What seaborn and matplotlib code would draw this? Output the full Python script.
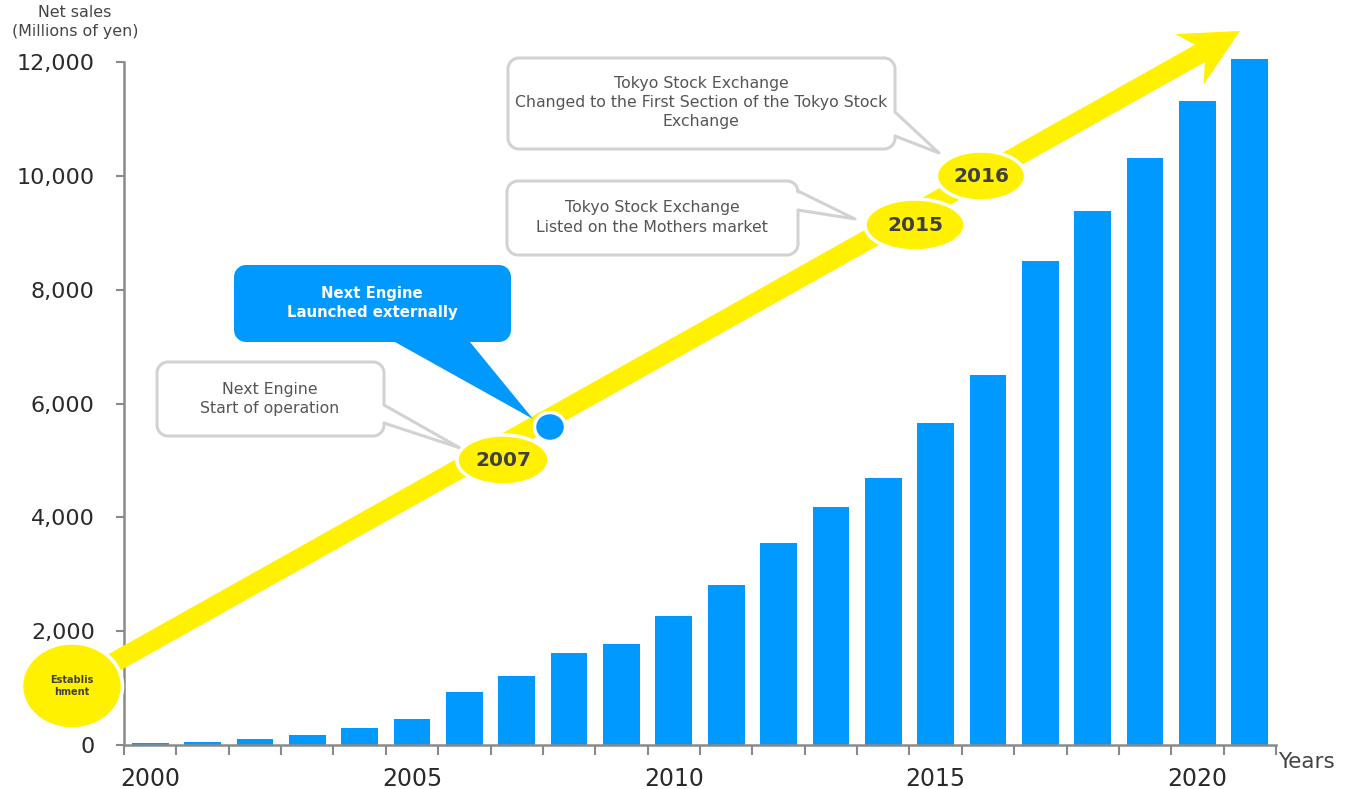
import numpy as np
import pandas as pd
import matplotlib
matplotlib.use("Agg")
import matplotlib.pyplot as plt
import seaborn as sns
from matplotlib.patches import Polygon, Ellipse

# ---------------- data ----------------
years = ["2000", "2001", "2002", "2003", "2004", "2005", "2006", "2007", "2008", "2009", "2010",
         "2011", "2012", "2013", "2014", "2015", "2016", "2017", "2018", "2019", "2020", "2021"]
net_sales = [35, 55, 100, 170, 300, 455, 928, 1215, 1610, 1775, 2270,
             2805, 3555, 4175, 4685, 5660, 6500, 8510, 9385, 10310, 11320, 12050]
shown_year_labels = ["2000", "2005", "2010", "2015", "2020"]
y_ticks = [0, 2000, 4000, 6000, 8000, 10000, 12000]
milestone_years = ["2007", "2015", "2016"]

W, H = 1349, 789
BAR = "#0099FF"
YEL = "#FFF100"
AX = "#8A8A8A"
DARK = "#404040"
BOXTXT = "#555555"
BOXEDGE = "#D2D2D2"

sns.set_theme(style="white")
plt.rcParams["font.family"] = ["DejaVu Sans"]

fig = plt.figure(figsize=(W / 100, H / 100), dpi=100)
fig.patch.set_facecolor("white")
ax = fig.add_axes([124 / W, 44 / H, 1152 / W, 683 / H])

df = pd.DataFrame({"year": years, "sales": net_sales})
sns.barplot(data=df, x="year", y="sales", color=BAR, saturation=1, width=0.7, ax=ax)
for p in ax.patches:
    p.set_clip_on(False)
    p.set_edgecolor("none")

ax.set_xlim(-0.5, len(years) - 0.5)
ax.set_ylim(0, 12000)
for s in ["top", "right"]:
    ax.spines[s].set_visible(False)
for s in ["left", "bottom"]:
    ax.spines[s].set_color(AX)
    ax.spines[s].set_linewidth(1.8)

ax.set_yticks(y_ticks)
ax.set_yticklabels([f"{v:,}" for v in y_ticks])
ax.tick_params(axis="y", direction="out", length=6, width=1.5, color=AX,
               labelsize=16, pad=15, labelcolor="#2a2a2a", left=True)

ax.set_xticks([years.index(l) for l in shown_year_labels])
ax.set_xticklabels(shown_year_labels)
ax.set_xticks(np.arange(-0.5, len(years), 1), minor=True)
ax.tick_params(axis="x", which="major", length=0, pad=16, labelsize=17, labelcolor="#2a2a2a")
ax.tick_params(axis="x", which="minor", direction="out", length=7, width=1.5, color=AX, bottom=True)
ax.set_xlabel("")
ax.set_ylabel("")
ax.grid(False)

# ---------------- overlay in pixel coordinates ----------------
ov = fig.add_axes([0, 0, 1, 1], zorder=5)
ov.set_xlim(0, W)
ov.set_ylim(H, 0)
ov.axis("off")
ov.patch.set_alpha(0)

ov.text(75, 12, "Net sales", ha="center", va="center", fontsize=11.4, color="#444444")
ov.text(75, 31, "(Millions of yen)", ha="center", va="center", fontsize=11.4, color="#444444")
ov.text(1278, 762, "Years", ha="left", va="center", fontsize=15.5, color="#444444")

# yellow arrow
S = np.array([90.0, 676.0])
T = np.array([1240.0, 31.0])
u = (T - S) / np.linalg.norm(T - S)
n = np.array([u[1], -u[0]])  # perpendicular (points up-left)
hw, back_notch, back_wing, wing_hw = 10, 46, 58, 29
pts = [S + n * hw,
       T - u * back_notch + n * hw,
       T - u * back_wing + n * wing_hw,
       T,
       T - u * back_wing - n * wing_hw,
       T - u * back_notch - n * hw,
       S - n * hw]
ov.add_patch(Polygon(pts, closed=True, facecolor=YEL, edgecolor="none", zorder=1))


def callout(x0, y0, x1, y1, r, side, b1, b2, tip, fc, ec, lw):
    def arc(cx, cy, a0, a1):
        t = np.radians(np.linspace(a0, a1, 12))
        return list(zip(cx + r * np.cos(t), cy + r * np.sin(t)))
    p = [(x0 + r, y0), (x1 - r, y0)]
    p += arc(x1 - r, y0 + r, -90, 0)
    if side == "right":
        p += [(x1, b1), tuple(tip), (x1, b2)]
    p += arc(x1 - r, y1 - r, 0, 90)
    if side == "bottom":
        p += [(b2, y1), tuple(tip), (b1, y1)]
    p += arc(x0 + r, y1 - r, 90, 180)
    p += arc(x0 + r, y0 + r, 180, 270)
    ov.add_patch(Polygon(p, closed=True, facecolor=fc, edgecolor=ec, linewidth=lw,
                         joinstyle="round", zorder=2))


FS = 11.3
callout(157, 362, 384, 436, 11, "right", 405, 423, (460, 448), "white", BOXEDGE, 2.2)
ov.text(270, 389, "Next Engine", ha="center", va="center", fontsize=FS, color=BOXTXT, zorder=3)
ov.text(270, 408, "Start of operation", ha="center", va="center", fontsize=FS, color=BOXTXT, zorder=3)

callout(234, 265, 511, 342, 12, "bottom", 395, 470, (533, 419), BAR, "none", 0)
ov.text(372, 293, "Next Engine", ha="center", va="center", fontsize=10.7, color="white",
        fontweight="bold", zorder=3)
ov.text(372, 312, "Launched externally", ha="center", va="center", fontsize=10.7, color="white",
        fontweight="bold", zorder=3)

callout(507, 181, 798, 255, 11, "right", 191, 210, (855, 219), "white", BOXEDGE, 2.2)
ov.text(652, 207, "Tokyo Stock Exchange", ha="center", va="center", fontsize=FS, color=BOXTXT, zorder=3)
ov.text(652, 227, "Listed on the Mothers market", ha="center", va="center", fontsize=FS,
        color=BOXTXT, zorder=3)

callout(508, 58, 895, 149, 11, "right", 112, 136, (939, 153), "white", BOXEDGE, 2.2)
ov.text(701, 83, "Tokyo Stock Exchange", ha="center", va="center", fontsize=FS, color=BOXTXT, zorder=3)
ov.text(701, 102, "Changed to the First Section of the Tokyo Stock", ha="center", va="center",
        fontsize=FS, color=BOXTXT, zorder=3)
ov.text(701, 121, "Exchange", ha="center", va="center", fontsize=FS, color=BOXTXT, zorder=3)

# milestone ellipses
ov.add_patch(Ellipse((72, 686), 101, 86, facecolor=YEL, edgecolor="white", linewidth=2.5, zorder=4))
ov.text(72, 680, "Establis", ha="center", va="center", fontsize=7, color=DARK, fontweight="bold", zorder=5)
ov.text(72, 692, "hment", ha="center", va="center", fontsize=7, color=DARK, fontweight="bold", zorder=5)

ell_pos = {"2007": ((503, 460), 92, 50), "2015": ((915, 225), 100, 52), "2016": ((981, 176), 89, 50)}
for yr in milestone_years:
    (cx, cy), ew, eh = ell_pos[yr]
    ov.add_patch(Ellipse((cx, cy), ew, eh, facecolor=YEL, edgecolor="white", linewidth=2.5, zorder=4))
    ov.text(cx, cy, yr, ha="center", va="center", fontsize=14.5, fontweight="bold", color=DARK, zorder=5)

ov.add_patch(Ellipse((550, 427), 31, 29, facecolor=BAR, edgecolor="white", linewidth=2.5, zorder=6))

fig.savefig("out.png", dpi=100, facecolor="white")
